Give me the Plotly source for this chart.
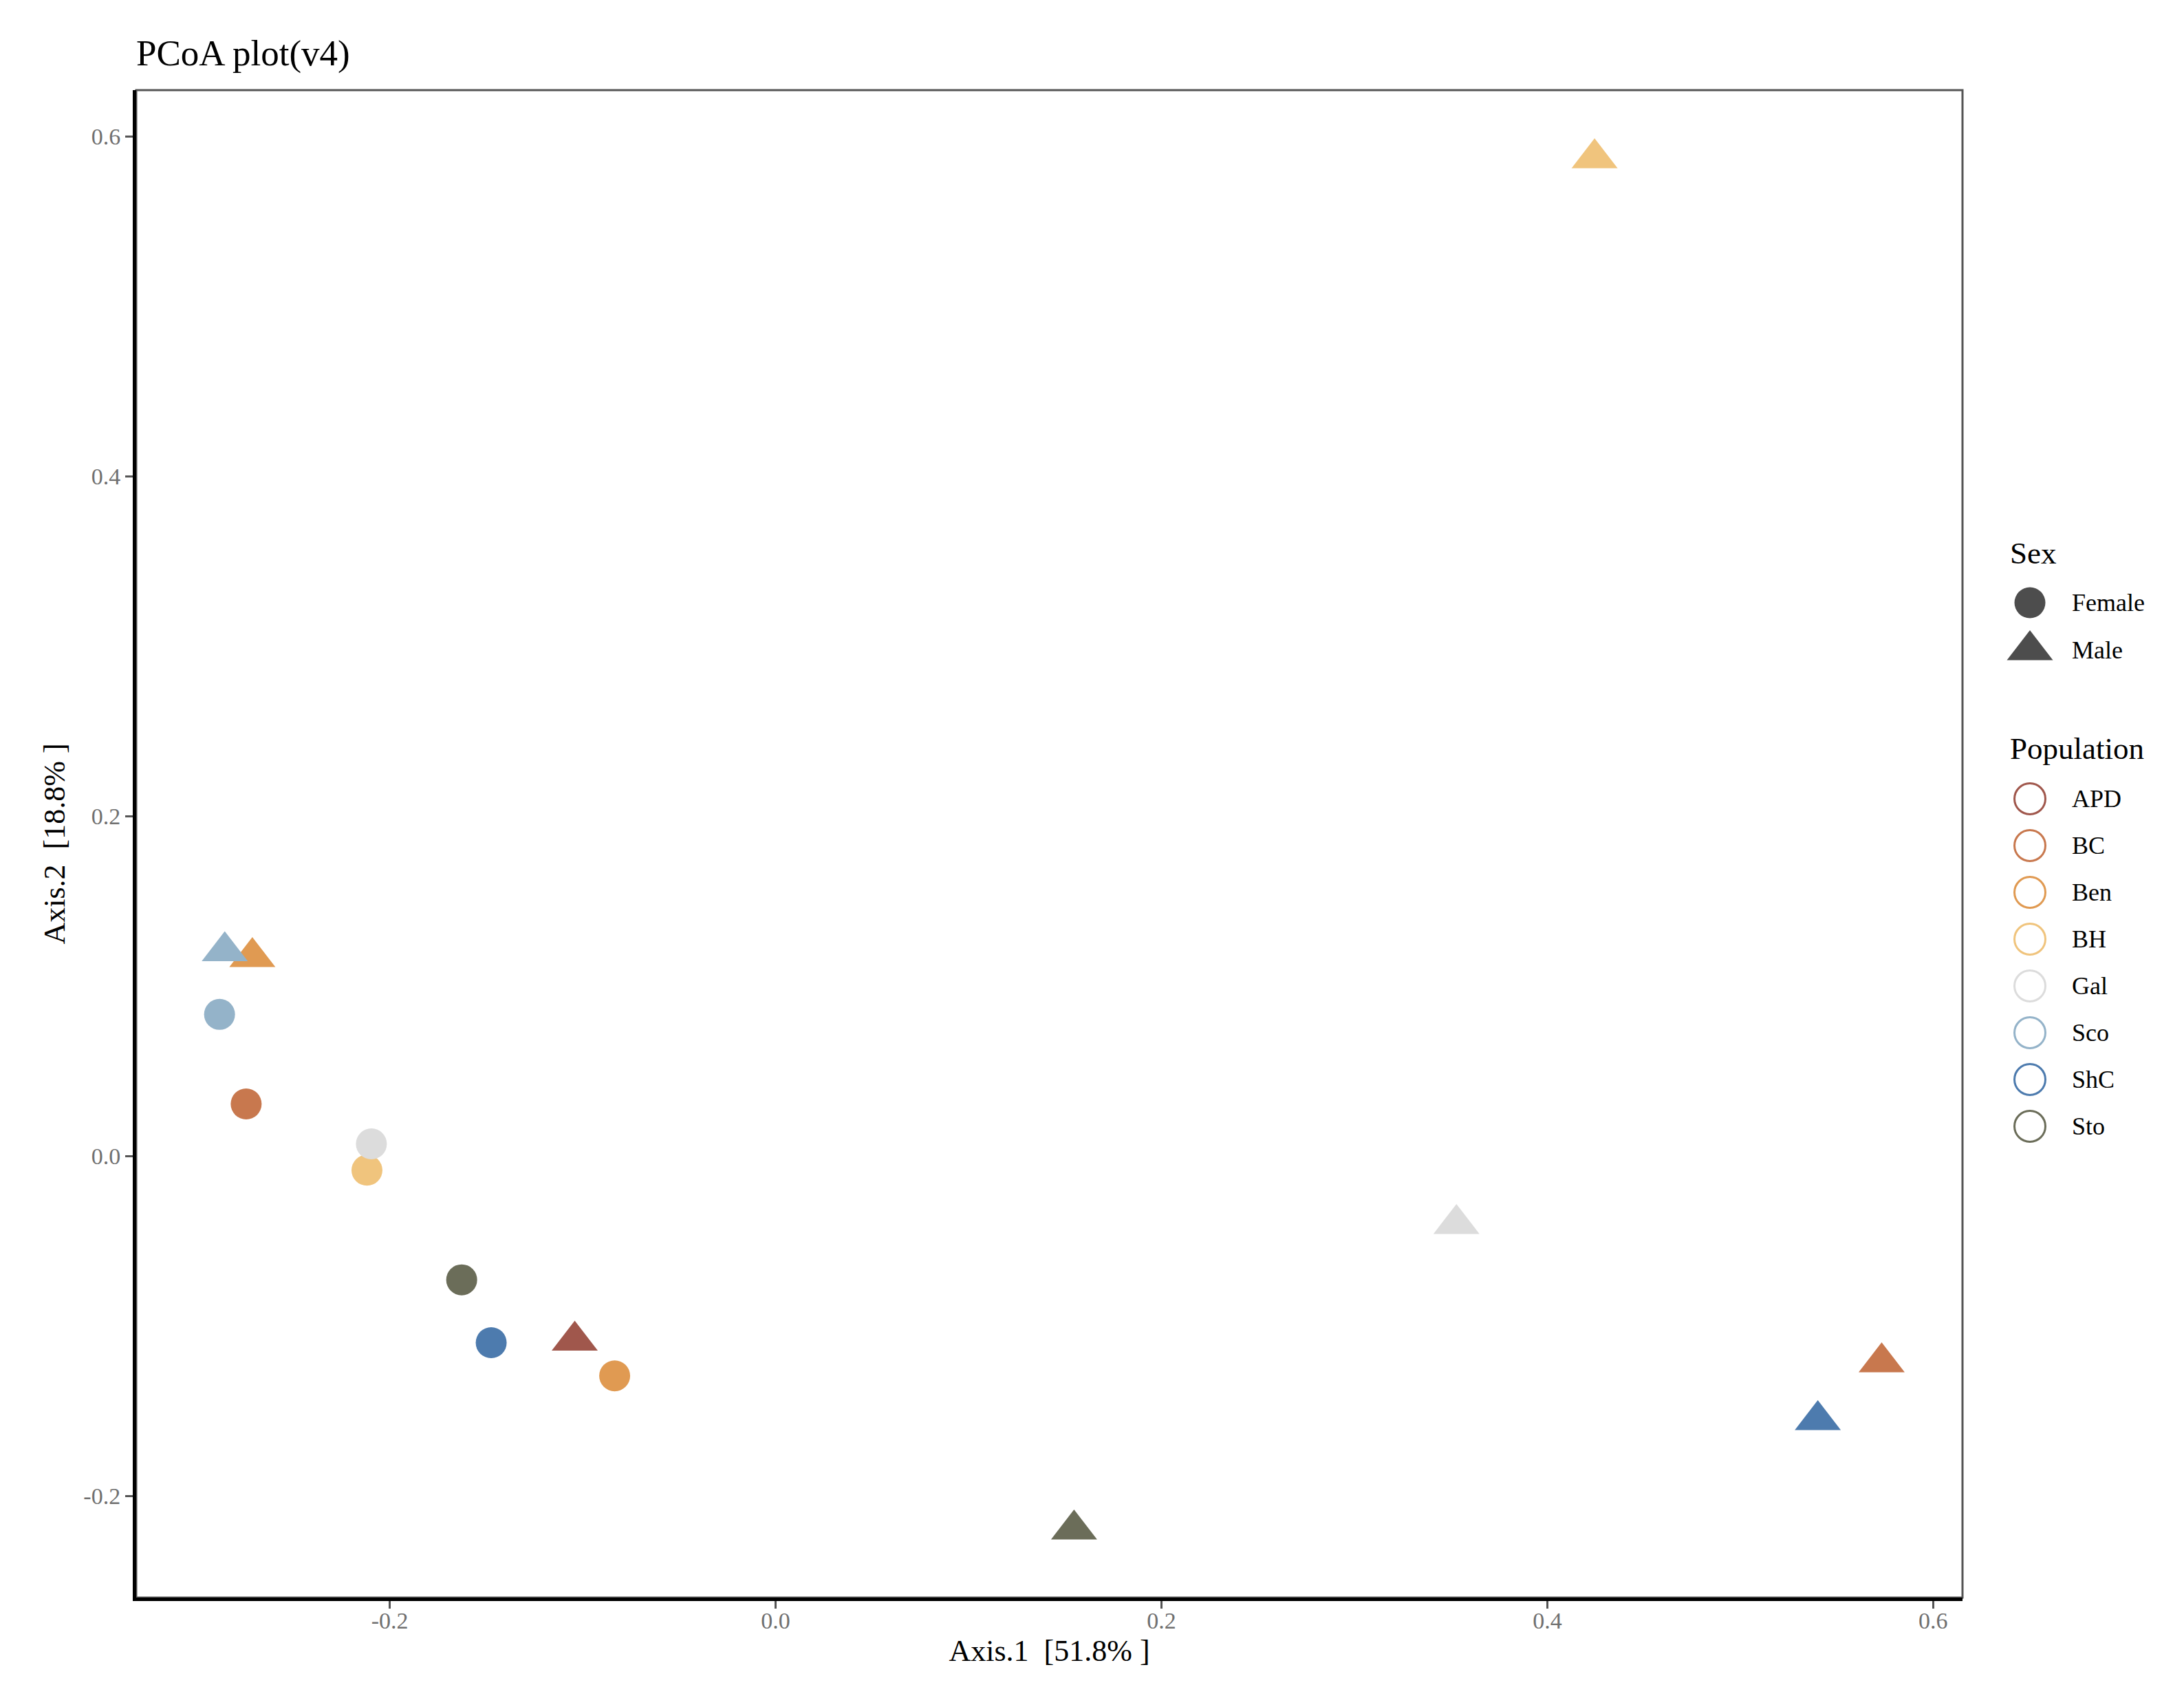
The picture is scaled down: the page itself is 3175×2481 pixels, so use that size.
import plotly.graph_objects as go

# ---------------- data ----------------
populations = ["APD", "BC", "Ben", "BH", "Gal", "Sco", "ShC", "Sto"]
pop_colors = ["#A0574C", "#C8784E", "#E09A52", "#F0C47D", "#DCDCDC", "#94B3C9", "#4D7BAE", "#6B6D59"]

female_pop = ["BC", "Ben", "BH", "Gal", "Sco", "ShC", "Sto"]
female_axis1 = [-0.2744, -0.0834, -0.2118, -0.2095, -0.2882, -0.1474, -0.1627]
female_axis2 = [0.0307, -0.1293, -0.0083, 0.0072, 0.0834, -0.1098, -0.0728]

male_pop = ["APD", "BC", "Ben", "BH", "Gal", "Sco", "ShC", "Sto"]
male_axis1 = [-0.1041, 0.5733, -0.2712, 0.4245, 0.3529, -0.2855, 0.5402, 0.1547]
male_axis2 = [-0.1086, -0.1213, 0.1171, 0.5872, -0.0399, 0.1206, -0.1553, -0.2197]

sexes = ["Female", "Male"]
x_tickvals = [-0.2, 0.0, 0.2, 0.4, 0.6]
x_ticktext = ["-0.2", "0.0", "0.2", "0.4", "0.6"]
y_tickvals = [-0.2, 0.0, 0.2, 0.4, 0.6]
y_ticktext = ["-0.2", "0.0", "0.2", "0.4", "0.6"]

title_text = "PCoA plot(v4)"
x_title = "Axis.1  [51.8% ]"
y_title = "Axis.2  [18.8% ]"

# ---------------- layout constants (reference pixel frame) ----------------
OFF = 8                      # default page body margin
W, H = 3175 - 2 * OFF, 2481 - 2 * OFF
REF_L, REF_R, REF_T, REF_B = 198, 2853, 131, 2322
ML = REF_L - OFF
MT = REF_T - OFF
MB = H - (REF_B - OFF)
MR = 0
PW = W - ML - MR
main_dom_end = (REF_R - OFF - ML) / PW
leg_dom_start = 0.9
FONT = "Liberation Serif"

color_of = dict(zip(populations, pop_colors))
CIRCLE_SIZE = 45
TRI_SIZE = 58

fig = go.Figure()

fig.add_trace(go.Scatter(
    x=female_axis1, y=female_axis2, mode="markers", name="Female",
    marker=dict(symbol="circle", size=CIRCLE_SIZE,
                color=[color_of[p] for p in female_pop], line=dict(width=0)),
    text=female_pop, showlegend=False, cliponaxis=False,
))
fig.add_trace(go.Scatter(
    x=male_axis1, y=male_axis2, mode="markers", name="Male",
    marker=dict(symbol="triangle-up", size=TRI_SIZE,
                color=[color_of[p] for p in male_pop], line=dict(width=0)),
    text=male_pop, showlegend=False, cliponaxis=False,
))

# ---------------- custom legend on a hidden axis (reference-pixel units) ----------------
leg_x0_ref = ML + leg_dom_start * PW + OFF
sym_x = 2951
txt_x = 3010
title_x = 2920
sex_title_y = 804
sex_row0, sex_step = 876, 69
pop_title_y = 1088
pop_row0, pop_step = 1161, 68

sex_symbols = ["circle", "triangle-up"]
sex_sizes = [CIRCLE_SIZE, TRI_SIZE]
for i, (s, sym, sz) in enumerate(zip(sexes, sex_symbols, sex_sizes)):
    fig.add_trace(go.Scatter(
        x=[sym_x], y=[sex_row0 + i * sex_step], mode="markers", xaxis="x2", yaxis="y2",
        marker=dict(symbol=sym, size=sz, color="#4D4D4D", line=dict(width=0)),
        showlegend=False, hoverinfo="skip", cliponaxis=False,
    ))

for i, (p, c) in enumerate(zip(populations, pop_colors)):
    fig.add_trace(go.Scatter(
        x=[sym_x], y=[pop_row0 + i * pop_step], mode="markers", xaxis="x2", yaxis="y2",
        marker=dict(symbol="circle-open", size=CIRCLE_SIZE, color=c, line=dict(width=3, color=c)),
        showlegend=False, hoverinfo="skip", cliponaxis=False,
    ))

annotations = []
annotations.append(dict(x=title_x, y=sex_title_y, xref="x2", yref="y2", text="Sex",
                        showarrow=False, xanchor="left", yanchor="middle",
                        font=dict(family=FONT, size=45, color="black")))
for i, s in enumerate(sexes):
    annotations.append(dict(x=txt_x, y=sex_row0 + i * sex_step, xref="x2", yref="y2", text=s,
                            showarrow=False, xanchor="left", yanchor="middle",
                            font=dict(family=FONT, size=36, color="black")))
annotations.append(dict(x=title_x, y=pop_title_y, xref="x2", yref="y2", text="Population",
                        showarrow=False, xanchor="left", yanchor="middle",
                        font=dict(family=FONT, size=45, color="black")))
for i, p in enumerate(populations):
    annotations.append(dict(x=txt_x, y=pop_row0 + i * pop_step, xref="x2", yref="y2", text=p,
                            showarrow=False, xanchor="left", yanchor="middle",
                            font=dict(family=FONT, size=36, color="black")))

# panel border
shapes = [dict(type="rect", xref="paper", yref="paper", x0=0, x1=main_dom_end, y0=0, y1=1,
               line=dict(color="#555555", width=3), fillcolor="rgba(0,0,0,0)", layer="below")]

fig.update_layout(
    width=W, height=H,
    margin=dict(l=ML, r=MR, t=MT, b=MB, pad=0),
    paper_bgcolor="white", plot_bgcolor="white",
    font=dict(family=FONT, color="black"),
    title=dict(text=title_text, x=0, xref="paper", xanchor="left",
               y=1 - (76 - OFF) / H, yref="container", yanchor="middle",
               font=dict(family=FONT, size=53, color="black")),
    xaxis=dict(domain=[0, main_dom_end], range=[-0.3314, 0.6152],
               tickvals=x_tickvals, ticktext=x_ticktext,
               showgrid=False, zeroline=False,
               showline=True, linecolor="black", linewidth=5,
               ticks="outside", ticklen=11, tickwidth=3, tickcolor="#555555",
               ticklabelstandoff=-12,
               tickfont=dict(family=FONT, size=34, color="#707070"),
               title=dict(text=x_title, font=dict(family=FONT, size=44, color="black"), standoff=12),
               automargin=False),
    yaxis=dict(range=[-0.2598, 0.6273],
               tickvals=y_tickvals, ticktext=y_ticktext,
               showgrid=False, zeroline=False,
               showline=True, linecolor="black", linewidth=5,
               ticks="outside", ticklen=11, tickwidth=3, tickcolor="#555555",
               tickfont=dict(family=FONT, size=34, color="#707070"),
               title=dict(text=y_title, font=dict(family=FONT, size=44, color="black"), standoff=14),
               automargin=False),
    xaxis2=dict(domain=[leg_dom_start, 1], range=[leg_x0_ref, W + OFF], visible=False,
                anchor="y2", fixedrange=True),
    yaxis2=dict(domain=[0, 1], range=[REF_B, REF_T], visible=False,
                anchor="x2", fixedrange=True),
    annotations=annotations,
    shapes=shapes,
)

fig.write_html("out.html")
